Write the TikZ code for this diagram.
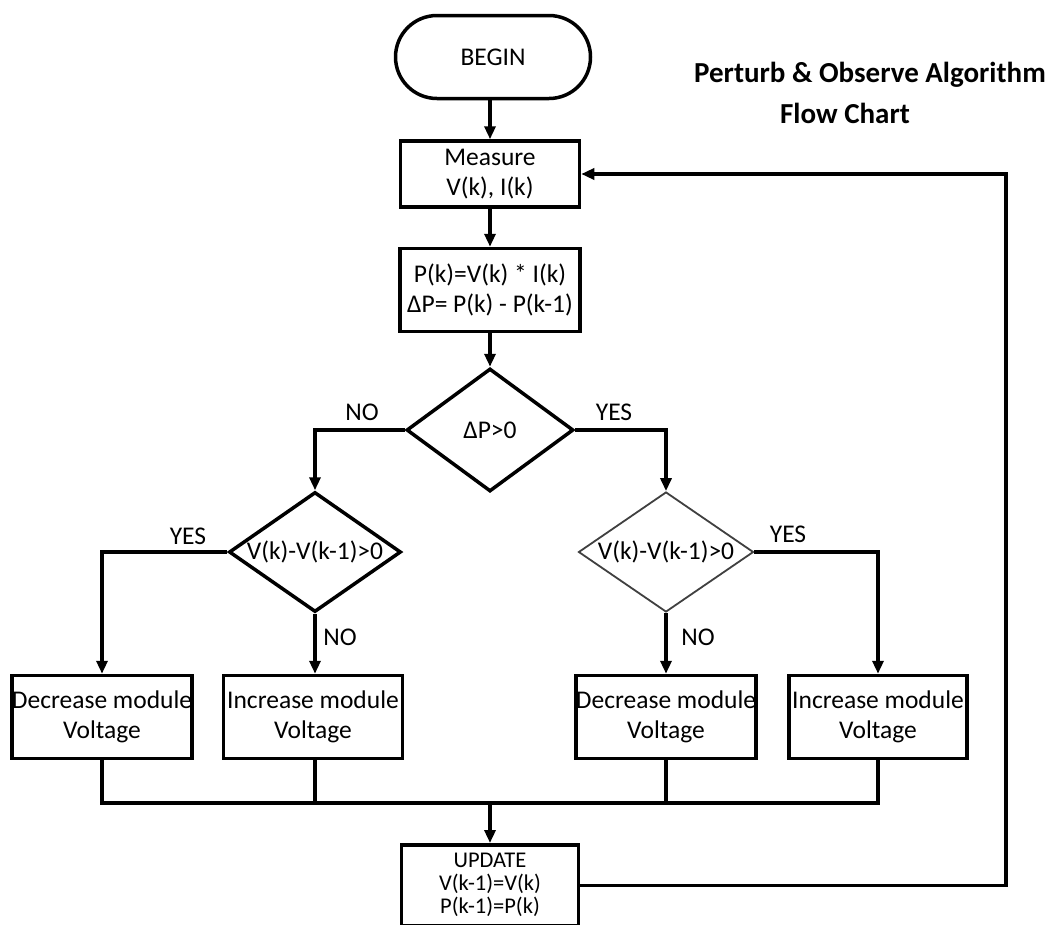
\documentclass[tikz,border=0pt]{standalone}
\usepackage{fontspec}
\setmainfont{Carlito}
\usetikzlibrary{shapes.geometric,shapes.misc,arrows.meta}
\begin{document}
\begin{tikzpicture}[x=1pt,y=-1pt,
  every node/.style={font=\fontsize{25.5}{30}\selectfont},
  box/.style={draw, line width=3.5pt, rectangle, align=center, inner sep=0pt},
  dec/.style={draw, line width=3.5pt, diamond, inner sep=0pt},
  thindec/.style={draw=black!75, line width=1.8pt, diamond, inner sep=0pt},
  term/.style={draw, line width=3.5pt, rounded rectangle, inner sep=0pt},
  lbl/.style={inner sep=0pt},
  flow/.style={line width=3.5pt, -{Triangle[length=13pt,width=11pt]}},
  wire/.style={line width=3.5pt},
  ttl/.style={inner sep=0pt, font=\fontsize{29}{36}\selectfont\bfseries},
]
\useasboundingbox (0,0) rectangle (1062,924);
\fill[white] (0,0) rectangle (1062,924);

\node[term, minimum width=195pt, minimum height=83pt] (begin) at (493,57) {BEGIN};
\node[ttl] (t1) at (870,75) {Perturb \& Observe Algorithm};
\node[ttl] (t2) at (845,113) {Flow Chart};

\node[box, minimum width=179pt, minimum height=66pt] (measure) at (490,174) {Measure\\V(k), I(k)};
\node[box, minimum width=180pt, minimum height=83pt] (pk) at (490,290) {P(k)=V(k) * I(k)\\ΔP= P(k) - P(k-1)};
\node[dec, minimum width=167pt, minimum height=123pt] (d1) at (490,430) {\makebox[0pt]{ΔP>0}};
\node[dec, minimum width=172pt, minimum height=120pt] (d2) at (315,552) {\makebox[0pt]{V(k)-V(k-1)>0}};
\node[thindec, minimum width=175pt, minimum height=120pt] (d3) at (666,552) {\makebox[0pt]{V(k)-V(k-1)>0}};

\node[box, minimum width=179pt, minimum height=83pt] (bdl) at (102,717) {Decrease module\\Voltage};
\node[box, minimum width=179pt, minimum height=83pt] (bil) at (313,717) {Increase module\\Voltage};
\node[box, minimum width=179pt, minimum height=83pt] (bdr) at (666,717) {Decrease module\\Voltage};
\node[box, minimum width=178pt, minimum height=83pt] (bir) at (878,717) {Increase module\\Voltage};

\node[box, minimum width=177pt, minimum height=81pt, font=\fontsize{22.5}{23}\selectfont, anchor=north] (upd) at (490,843) {UPDATE\\V(k-1)=V(k)\\P(k-1)=P(k)};

\node[lbl] (no1) at (362,412) {NO};
\node[lbl] (yes1) at (614,412) {YES};
\node[lbl] (yes2) at (188,536) {YES};
\node[lbl] (no2) at (340,637) {NO};
\node[lbl] (no3) at (698,637) {NO};
\node[lbl] (yes3) at (788,534) {YES};

\coordinate (bus) at (490,803);
\coordinate (fbx) at (1006,174);

\draw[flow] (measure.north |- begin.south) -- (measure.north);
\draw[flow] (measure) -- (pk);
\draw[flow] (pk) -- (d1);
\draw[flow] (d1.west) -| (d2.north);
\draw[flow] (d1.east) -| (d3.north);
\draw[flow] (d2.west) -| (bdl.north);
\draw[flow] (d2.south) -- (d2.south |- bil.north);
\draw[flow] (d3.south) -- (d3.south |- bdr.north);
\draw[flow] (d3.east) -| (bir.north);

\draw[wire] (bdl.south) |- (bir.south |- bus) -- (bir.south);
\draw[wire] (d2.south |- bil.south) -- (d2.south |- bus);
\draw[wire] (d3.south |- bdr.south) -- (d3.south |- bus);
\draw[flow] (bus) -- (upd.north);
\draw[flow] (upd.east) -| (fbx) -- (measure.east);
\end{tikzpicture}
\end{document}
